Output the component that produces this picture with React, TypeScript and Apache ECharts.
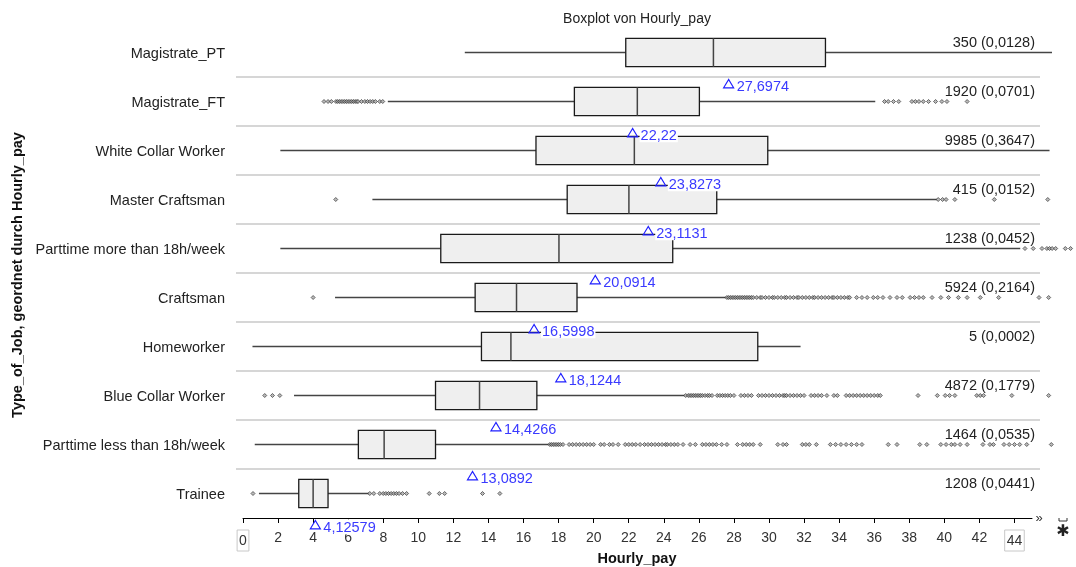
import React, { useEffect, useRef } from "react";
import * as echarts from "echarts";

const FONT = "'Liberation Sans', Arial, Helvetica, sans-serif";

const categories = [
  "Magistrate_PT",
  "Magistrate_FT",
  "White Collar Worker",
  "Master Craftsman",
  "Parttime more than 18h/week",
  "Craftsman",
  "Homeworker",
  "Blue Collar Worker",
  "Parttime less than 18h/week",
  "Trainee",
];
const whiskerLow = [12.65, 8.26, 2.13, 7.38, 2.13, 5.25, 0.54, 2.91, 0.67, 0.91];
const q1 = [21.83, 18.9, 16.71, 18.49, 11.28, 13.24, 13.6, 10.98, 6.58, 3.18];
const median = [26.83, 22.49, 22.32, 22.01, 18.02, 15.6, 15.28, 13.49, 8.05, 4.0];
const q3 = [33.22, 26.03, 29.93, 27.02, 24.51, 19.05, 29.36, 16.76, 10.98, 4.85];
const whiskerHigh = [46.14, 36.06, 46.0, 39.58, 44.33, 27.55, 31.8, 25.2, 17.5, 7.19];
const means = [27.6974, 22.22, 23.8273, 23.1131, 20.0914, 16.5998, 18.1244, 14.4266, 13.0892, 4.12579];
const counts = [350, 1920, 9985, 415, 1238, 5924, 5, 4872, 1464, 1208];
const shares = ["0,0128", "0,0701", "0,3647", "0,0152", "0,0452", "0,2164", "0,0002", "0,1779", "0,0535", "0,0441"];
const xTicks = [0, 2, 4, 6, 8, 10, 12, 14, 16, 18, 20, 22, 24, 26, 28, 30, 32, 34, 36, 38, 40, 42, 44];

const outMagistratePT: number[] = [];
const outMagistrateFT = [4.62, 4.85, 5.04, 5.3, 5.4, 5.5, 5.6, 5.7, 5.8, 5.9, 6.0, 6.1, 6.2, 6.3, 6.4, 6.5, 6.56, 6.76, 6.95, 7.1, 7.25, 7.4, 7.55, 7.8, 7.97, 36.59, 36.8, 37.1, 37.4, 38.15, 38.35, 38.55, 38.8, 39.1, 39.5, 39.86, 40.15, 41.3];
const outWhiteCollar: number[] = [];
const outMasterCraftsman = [5.29, 39.65, 39.9, 40.1, 40.6, 42.85, 45.9];
const outParttimeMore = [44.6, 45.07, 45.57, 45.85, 46.0, 46.15, 46.35, 46.9, 47.2];
const outCraftsman = [4.0, 27.6, 27.7, 27.8, 27.9, 28.0, 28.1, 28.2, 28.3, 28.4, 28.5, 28.6, 28.7, 28.8, 28.9, 29.0, 29.1, 29.3, 29.5, 29.6, 29.8, 30.0, 30.2, 30.3, 30.5, 30.7, 30.9, 31.0, 31.2, 31.4, 31.6, 31.7, 31.9, 32.1, 32.3, 32.5, 32.6, 32.8, 33.0, 33.2, 33.4, 33.6, 33.7, 33.9, 34.1, 34.3, 34.5, 34.6, 35.0, 35.3, 35.6, 35.95, 36.2, 36.5, 36.9, 37.3, 37.6, 38.05, 38.3, 38.55, 38.8, 39.3, 39.8, 40.24, 40.8, 41.3, 42.05, 43.1, 45.4, 45.95];
const outHomeworker: number[] = [];
const outBlueCollar = [1.24, 1.68, 2.1, 25.25, 25.4, 25.5, 25.6, 25.7, 25.8, 25.9, 26.0, 26.1, 26.2, 26.35, 26.5, 26.6, 26.75, 27.05, 27.2, 27.35, 27.5, 27.65, 27.8, 28.0, 28.4, 28.6, 28.8, 29.0, 29.4, 29.6, 29.8, 30.0, 30.2, 30.4, 30.6, 30.8, 30.9, 31.0, 31.2, 31.4, 31.6, 31.8, 32.0, 32.4, 32.6, 32.8, 33.0, 33.3, 33.7, 33.9, 34.4, 34.6, 34.8, 35.0, 35.2, 35.4, 35.6, 35.8, 36.0, 36.2, 36.35, 38.5, 39.6, 40.05, 40.3, 40.6, 41.85, 42.05, 42.24, 43.85, 45.95];
const outParttimeLess = [17.5, 17.6, 17.7, 17.8, 17.9, 18.0, 18.1, 18.25, 18.6, 18.8, 19.0, 19.2, 19.4, 19.6, 19.8, 20.0, 20.4, 20.6, 20.9, 21.1, 21.4, 21.8, 22.0, 22.2, 22.4, 22.65, 22.9, 23.1, 23.3, 23.5, 23.7, 23.9, 24.1, 24.2, 24.4, 24.6, 24.8, 25.1, 25.5, 25.8, 26.2, 26.4, 26.6, 26.8, 27.0, 27.3, 27.6, 28.2, 28.5, 28.7, 28.9, 29.1, 29.5, 30.5, 30.8, 31.0, 31.9, 32.1, 32.3, 32.7, 33.5, 33.8, 34.1, 34.4, 34.7, 35.0, 35.3, 36.8, 37.3, 38.6, 39.0, 39.8, 40.1, 40.4, 40.6, 40.9, 41.3, 42.2, 42.6, 42.8, 43.4, 43.7, 44.0, 44.3, 44.7, 46.1];
const outTrainee = [0.57, 7.23, 7.46, 7.8, 8.0, 8.15, 8.3, 8.45, 8.6, 8.75, 8.9, 9.1, 9.33, 10.62, 11.2, 11.5, 13.66, 14.65];

const outliers = [
  outMagistratePT,
  outMagistrateFT,
  outWhiteCollar,
  outMasterCraftsman,
  outParttimeMore,
  outCraftsman,
  outHomeworker,
  outBlueCollar,
  outParttimeLess,
  outTrainee,
];

const fmt = (v: number) => String(v).replace(".", ",");

export default function App() {
  const ref = useRef<HTMLDivElement>(null);
  useEffect(() => {
    const chart = echarts.init(ref.current!, null, { renderer: "svg" });
    const boxData = categories.map((_, i) => [i, whiskerLow[i], q1[i], median[i], q3[i], whiskerHigh[i]]);
    const outlierData: number[][] = [];
    outliers.forEach((arr, i) => arr.forEach((v) => outlierData.push([v, i])));
    const meanData = means.map((m, i) => [i, m]);

    const option: any = {
      animation: false,
      textStyle: { fontFamily: FONT },
      grid: { left: 243, right: 44, top: 28, bottom: 49 },
      xAxis: {
        type: "value",
        min: 0,
        max: 45,
        interval: 2,
        axisLine: { show: true, lineStyle: { color: "#000", width: 1 } },
        axisTick: { show: true, length: 5, customValues: xTicks, lineStyle: { color: "#000" } },
        axisLabel: {
          customValues: xTicks,
          margin: 12,
          fontSize: 14,
          color: "#333",
          fontFamily: FONT,
          formatter: (v: number) => (v === 0 || v === 44 ? `{b|${v}}` : String(v)),
          rich: {
            b: {
              fontSize: 14,
              color: "#333",
              fontFamily: FONT,
              borderColor: "#c8c8c8",
              borderWidth: 1,
              padding: [3, 2, 4, 2],
            },
          },
        },
        splitLine: { show: false },
      },
      yAxis: {
        type: "category",
        data: categories,
        inverse: true,
        axisLine: { show: false },
        axisTick: { show: false },
        splitLine: { show: false },
        axisLabel: { fontSize: 14.5, color: "#222", margin: 18, fontFamily: FONT },
      },
      graphic: [
        {
          type: "text",
          x: 637,
          y: 18,
          style: { text: "Boxplot von Hourly_pay", fill: "#222", font: `14px ${FONT}`, align: "center", verticalAlign: "middle" },
        },
        {
          type: "text",
          x: 637,
          y: 558,
          style: { text: "Hourly_pay", fill: "#111", font: `bold 14.5px ${FONT}`, align: "center", verticalAlign: "middle" },
        },
        {
          type: "text",
          x: 17,
          y: 275,
          rotation: Math.PI / 2,
          style: {
            text: "Type_of_Job, geordnet durch Hourly_pay",
            fill: "#111",
            font: `bold 14.5px ${FONT}`,
            align: "center",
            verticalAlign: "middle",
          },
        },
        {
          type: "text",
          x: 1039,
          y: 517,
          style: { text: "»", fill: "#333", font: `13px ${FONT}`, align: "center", verticalAlign: "middle" },
        },
        {
          type: "polyline",
          shape: { points: [[1059, 518], [1059, 521], [1067, 521], [1067, 518]] },
          style: { stroke: "#333", lineWidth: 1, fill: "none" },
        },
        {
          type: "text",
          x: 1063,
          y: 530,
          style: { text: "✱", fill: "#222", font: `16px 'DejaVu Sans'`, align: "center", verticalAlign: "middle" },
        },
      ],
      series: [
        {
          type: "custom",
          name: "boxes",
          clip: false,
          silent: true,
          encode: { x: [1, 2, 3, 4, 5], y: 0 },
          data: boxData,
          z: 2,
          renderItem: (params: any, api: any) => {
            const ci = api.value(0);
            const cs = params.coordSys;
            const band = api.size([0, 1])[1];
            const pLow = api.coord([api.value(1), ci]);
            const pQ1 = api.coord([api.value(2), ci]);
            const pMed = api.coord([api.value(3), ci]);
            const pQ3 = api.coord([api.value(4), ci]);
            const pHigh = api.coord([api.value(5), ci]);
            const cy = pMed[1];
            const h = band * 0.58;
            const children: any[] = [];
            if (ci < categories.length - 1) {
              children.push({
                type: "line",
                shape: { x1: cs.x - 7, y1: cy + band / 2, x2: cs.x + cs.width + 8, y2: cy + band / 2 },
                style: { stroke: "#c8c8c8", lineWidth: 1.5 },
              });
            }
            children.push({
              type: "line",
              shape: { x1: pLow[0], y1: cy, x2: pQ1[0], y2: cy },
              style: { stroke: "#444", lineWidth: 1.4 },
            });
            children.push({
              type: "line",
              shape: { x1: pQ3[0], y1: cy, x2: pHigh[0], y2: cy },
              style: { stroke: "#444", lineWidth: 1.4 },
            });
            children.push({
              type: "rect",
              shape: { x: pQ1[0], y: cy - h / 2, width: pQ3[0] - pQ1[0], height: h },
              style: { fill: "#efefef", stroke: "#1a1a1a", lineWidth: 1.3 },
            });
            children.push({
              type: "line",
              shape: { x1: pMed[0], y1: cy - h / 2, x2: pMed[0], y2: cy + h / 2 },
              style: { stroke: "#444", lineWidth: 1.5 },
            });
            children.push({
              type: "text",
              x: cs.x + cs.width + 3,
              y: cy - band * 0.22,
              style: {
                text: `${counts[ci]} (${shares[ci]})`,
                fill: "#222",
                font: `14.5px ${FONT}`,
                align: "right",
                verticalAlign: "middle",
              },
            });
            return { type: "group", children };
          },
        },
        {
          type: "scatter",
          name: "outliers",
          clip: false,
          silent: true,
          symbol: "diamond",
          symbolSize: 4,
          itemStyle: { color: "#aaaaaa", borderColor: "#222", borderWidth: 0.8 },
          data: outlierData,
          z: 3,
        },
        {
          type: "custom",
          name: "means",
          clip: false,
          silent: true,
          encode: { x: 1, y: 0 },
          data: meanData,
          z: 5,
          renderItem: (_params: any, api: any) => {
            const ci = api.value(0);
            const m = api.value(1);
            const p = api.coord([m, ci]);
            const band = api.size([0, 1])[1];
            const cy = p[1];
            return {
              type: "group",
              children: [
                {
                  type: "text",
                  x: p[0] + 7,
                  y: cy + band * 0.68,
                  style: {
                    text: fmt(m),
                    fill: "#3a3aff",
                    font: `14.5px ${FONT}`,
                    align: "left",
                    verticalAlign: "middle",
                    backgroundColor: "#ffffff",
                    padding: [0, 1],
                  },
                },
                {
                  type: "polygon",
                  shape: {
                    points: [
                      [p[0], cy + band * 0.55],
                      [p[0] - 5, cy + band * 0.72],
                      [p[0] + 5, cy + band * 0.72],
                    ],
                  },
                  style: { fill: "none", stroke: "#1f1fff", lineWidth: 1.2 },
                },
              ],
            };
          },
        },
      ],
    };
    chart.setOption(option);
    return () => chart.dispose();
  }, []);
  return <div ref={ref} style={{ position: "fixed", left: 0, top: 0, width: 1076, height: 567 }} />;
}
